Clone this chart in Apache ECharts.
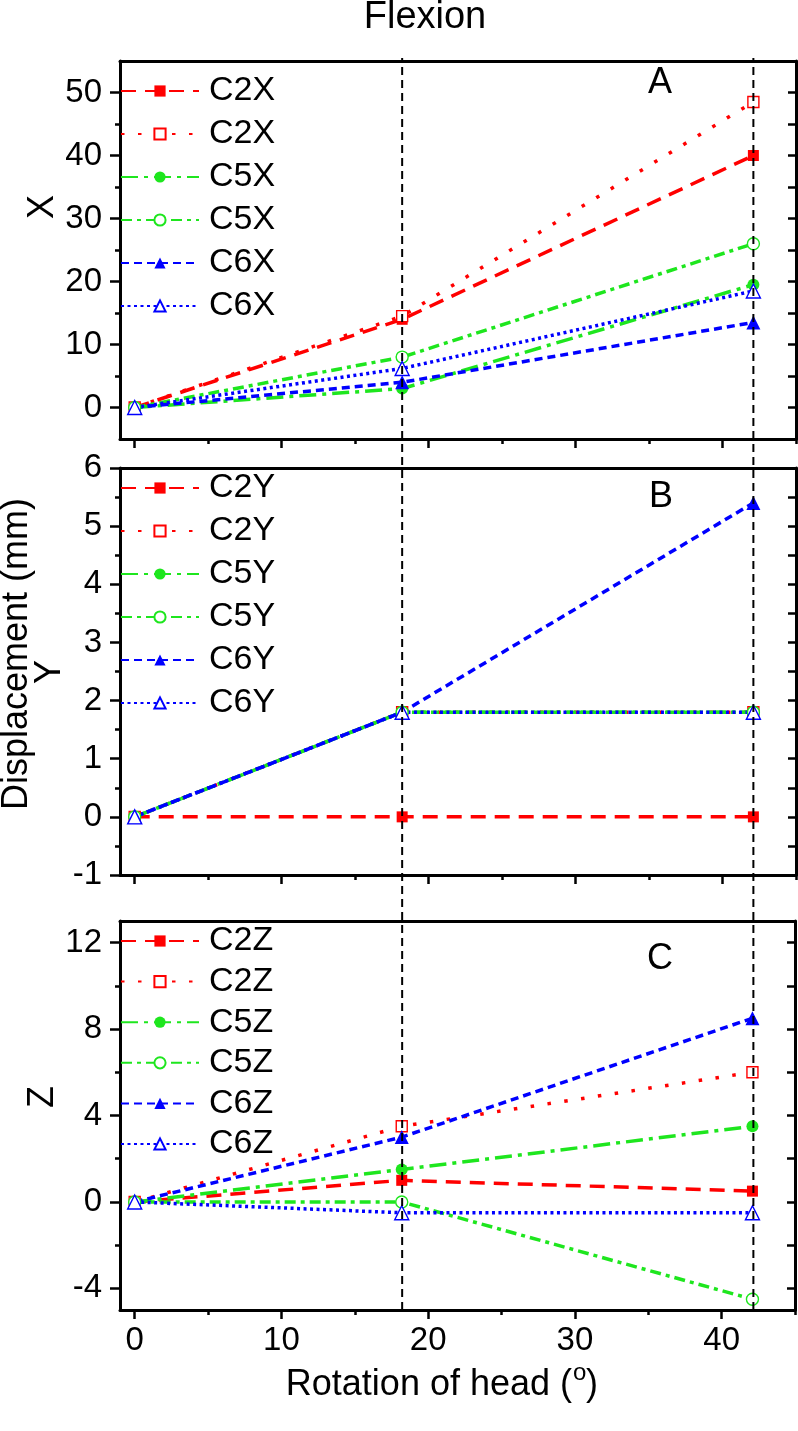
<!DOCTYPE html>
<html><head><meta charset="utf-8">
<script src="https://cdn.jsdelivr.net/npm/echarts@6/dist/echarts.min.js"></script>
<style>html,body{margin:0;padding:0;background:#fff}#c{width:798px;height:1431px}</style>
</head><body><div id="c"></div>
<script>
// ---------- data ----------
const rotation = [0, 18.2, 42.1];
const xMajorTicks = [0, 10, 20, 30, 40];
const xMinorTicks = [5, 15, 25, 35, 45];
const xLabelStep = 10;

const namesA = ['C2X', 'C2X', 'C5X', 'C5X', 'C6X', 'C6X'];
const namesB = ['C2Y', 'C2Y', 'C5Y', 'C5Y', 'C6Y', 'C6Y'];
const namesC = ['C2Z', 'C2Z', 'C5Z', 'C5Z', 'C6Z', 'C6Z'];

const c2xFilled = [0, 14, 40];
const c2xHollow = [0, 14.5, 48.5];
const c5xFilled = [0, 3, 19.5];
const c5xHollow = [0, 8, 26];
const c6xFilled = [0, 4, 13.5];
const c6xHollow = [0, 6.2, 18.5];

const c2yFilled = [0, 0, 0];
const c2yHollow = [0, 1.8, 1.8];
const c5yFilled = [0, 1.8, 1.8];
const c5yHollow = [0, 1.8, 1.8];
const c6yFilled = [0, 1.8, 5.4];
const c6yHollow = [0, 1.8, 1.8];

const c2zFilled = [0, 1, 0.5];
const c2zHollow = [0, 3.5, 6];
const c5zFilled = [0, 1.5, 3.5];
const c5zHollow = [0, 0, -4.5];
const c6zFilled = [0, 3, 8.5];
const c6zHollow = [0, -0.5, -0.5];

const yMajorA = [0, 10, 20, 30, 40, 50];
const yMinorA = [5, 15, 25, 35, 45];
const yRightA = [0, 5, 10, 15, 20, 25, 30, 35, 40, 45, 50];
const yMajorB = [-1, 0, 1, 2, 3, 4, 5, 6];
const yMinorB = [-0.5, 0.5, 1.5, 2.5, 3.5, 4.5, 5.5];
const yRightB = [-0.5, 0, 0.5, 1, 1.5, 2, 2.5, 3, 3.5, 4, 4.5, 5, 5.5];
const yMajorC = [-4, 0, 4, 8, 12];
const yMinorC = [-2, 2, 6, 10];
const yRightC = [-4, -2, 0, 2, 4, 6, 8, 10, 12];

// ---------- styling ----------
const FONT = '"Liberation Sans", Arial, Helvetica, sans-serif';
const RED = '#ff0000', GREEN = '#1ee61e', BLUE = '#0000ff';
const styles = [
  { color: RED,   dash: [15, 9],        symbol: 'rect',     size: 11, hollow: false },
  { color: RED,   dash: [3.5, 13.5],    symbol: 'rect',     size: 11, hollow: true },
  { color: GREEN, dash: [17, 6, 4, 6],  symbol: 'circle',   size: 12, hollow: false },
  { color: GREEN, dash: [11, 5, 4, 5],  symbol: 'circle',   size: 12, hollow: true },
  { color: BLUE,  dash: [8, 5],         symbol: 'triangle', size: 14, hollow: false },
  { color: BLUE,  dash: [3, 3.5],       symbol: 'triangle', size: 14, hollow: true }
];

const panels = [
  { names: namesA, values: [c2xFilled, c2xHollow, c5xFilled, c5xHollow, c6xFilled, c6xHollow],
    top: 61, height: 378, min: -5, max: 55, step: 5, major: yMajorA, minor: yMinorA, right: yRightA,
    legendTop: 74, legendGap: 9, xLabels: false },
  { names: namesB, values: [c2yFilled, c2yHollow, c5yFilled, c5yHollow, c6yFilled, c6yHollow],
    top: 468, height: 407, min: -1, max: 6, step: 1, major: yMajorB, minor: yMinorB, right: yRightB,
    legendTop: 471, legendGap: 9, xLabels: false },
  { names: namesC, values: [c2zFilled, c2zHollow, c5zFilled, c5zHollow, c6zFilled, c6zHollow],
    top: 921, height: 389, min: -5, max: 13, step: 1, major: yMajorC, minor: yMinorC, right: yRightC,
    legendTop: 924, legendGap: 6.6, xLabels: true }
];

const axisLineStyle = { color: '#000', width: 3 };
const tickLineStyle = { color: '#000', width: 2.5 };
const uniq = (n, i) => n + (i % 2 === 1 ? '\u200b' : '');
const isMult = (v, s) => Math.abs(v / s - Math.round(v / s)) < 1e-6;

const grid = [], xAxis = [], yAxis = [], series = [], legend = [];
panels.forEach((p, g) => {
  grid.push({ left: 120, right: 2, top: p.top, height: p.height });
  // x axes: main bottom (labels + major ticks), minor ticks bottom, top border
  xAxis.push({
    type: 'value', gridIndex: g, min: -1, max: 45, interval: 1, position: 'bottom',
    axisLine: { show: true, onZero: false, lineStyle: axisLineStyle },
    axisTick: { show: true, length: 9, customValues: xMajorTicks, lineStyle: tickLineStyle },
    axisLabel: { show: p.xLabels, fontSize: 33, fontFamily: FONT, color: '#000', margin: 14,
      formatter: v => (v >= 0 && isMult(v, xLabelStep)) ? String(v) : '' },
    splitLine: { show: false }
  });
  xAxis.push({
    type: 'value', gridIndex: g, min: -1, max: 45, position: 'bottom',
    axisLine: { show: false, onZero: false },
    axisTick: { show: true, length: 5, customValues: xMinorTicks, lineStyle: tickLineStyle },
    axisLabel: { show: false }, splitLine: { show: false }
  });
  xAxis.push({
    type: 'value', gridIndex: g, min: -1, max: 45, position: 'top',
    axisLine: { show: true, onZero: false, lineStyle: axisLineStyle },
    axisTick: { show: false }, axisLabel: { show: false }, splitLine: { show: false }
  });
  // y axes: main left, minor left, right border
  yAxis.push({
    type: 'value', gridIndex: g, min: p.min, max: p.max, interval: p.step, position: 'left',
    axisLine: { show: true, onZero: false, lineStyle: axisLineStyle },
    axisTick: { show: true, length: 10, customValues: p.major, lineStyle: tickLineStyle },
    axisLabel: { show: true, fontSize: 33, fontFamily: FONT, color: '#000', margin: 18,
      formatter: v => (p.major.indexOf(v) >= 0) ? String(v) : '' },
    splitLine: { show: false }
  });
  yAxis.push({
    type: 'value', gridIndex: g, min: p.min, max: p.max, position: 'left',
    axisLine: { show: false, onZero: false },
    axisTick: { show: true, length: 5, customValues: p.minor, lineStyle: tickLineStyle },
    axisLabel: { show: false }, splitLine: { show: false }
  });
  yAxis.push({
    type: 'value', gridIndex: g, min: p.min, max: p.max, position: 'right',
    axisLine: { show: true, onZero: false, lineStyle: axisLineStyle },
    axisTick: { show: true, inside: true, length: 8, customValues: p.right, lineStyle: tickLineStyle },
    axisLabel: { show: false }, splitLine: { show: false }
  });

  const names = p.names.map(uniq);
  p.values.forEach((vals, i) => {
    const s = styles[i];
    series.push({
      type: 'line', name: names[i], xAxisIndex: g * 3, yAxisIndex: g * 3,
      data: rotation.map((x, k) => [x, vals[k]]),
      symbol: s.symbol, symbolSize: s.size, showSymbol: true, showAllSymbol: true,
      lineStyle: { color: s.color, width: 3.5, type: s.dash },
      itemStyle: s.hollow ? { color: '#fff', borderColor: s.color, borderWidth: 1.4 } : { color: s.color, borderWidth: 0 },
      emphasis: { disabled: true }, animation: false, clip: false, z: 2
    });
  });
  legend.push({
    orient: 'vertical', left: 120, top: p.legendTop, padding: 0,
    itemGap: p.legendGap, itemWidth: 78, itemHeight: 14, selectedMode: false,
    data: names,
    formatter: n => n.replace(/\u200b/g, ''),
    textStyle: { fontSize: 34, fontFamily: FONT, color: '#000', lineHeight: 34, padding: [0, 0, 0, 5] }
  });
});

// overlay grid for the vertical dashed guide lines spanning all panels
grid.push({ left: 120, right: 2, top: 58, bottom: 1431 - 1310 });
xAxis.push({ type: 'value', gridIndex: 3, min: -1, max: 45, show: false });
yAxis.push({ type: 'value', gridIndex: 3, min: 0, max: 1, show: false });
[rotation[1], rotation[2]].forEach(x => {
  series.push({
    type: 'line', xAxisIndex: 9, yAxisIndex: 9, data: [[x, 0], [x, 1]],
    symbol: 'none', lineStyle: { color: '#000', width: 2, type: [8, 5] },
    silent: true, animation: false, z: 5
  });
});

const txt = (text, x, y, size, rot, align) => ({
  type: 'text', x, y, rotation: rot || 0, z: 100,
  style: { text, fontSize: size, fontFamily: FONT, fill: '#000', align: align || 'center', verticalAlign: 'middle' }
});

const graphic = [
  txt('Flexion', 425, 18, 38),
  txt('A', 660, 83, 36),
  txt('B', 661, 497, 36),
  txt('C', 660, 959, 36),
  txt('X', 43, 207, 36, Math.PI / 2),
  txt('Y', 50, 672, 36, Math.PI / 2),
  txt('Z', 43, 1097, 36, Math.PI / 2),
  txt('Displacement (mm)', 17, 654, 36, Math.PI / 2),
  txt('Rotation of head (', 572, 1385, 36, 0, 'right'),
  txt('o', 573, 1373, 24, 0, 'left'),
  txt(')', 586, 1385, 36, 0, 'left')
];

const chart = echarts.init(document.getElementById('c'), null, { renderer: 'canvas' });
chart.setOption({
  animation: false, backgroundColor: '#fff',
  grid, xAxis, yAxis, series, legend, graphic
});
</script></body></html>
